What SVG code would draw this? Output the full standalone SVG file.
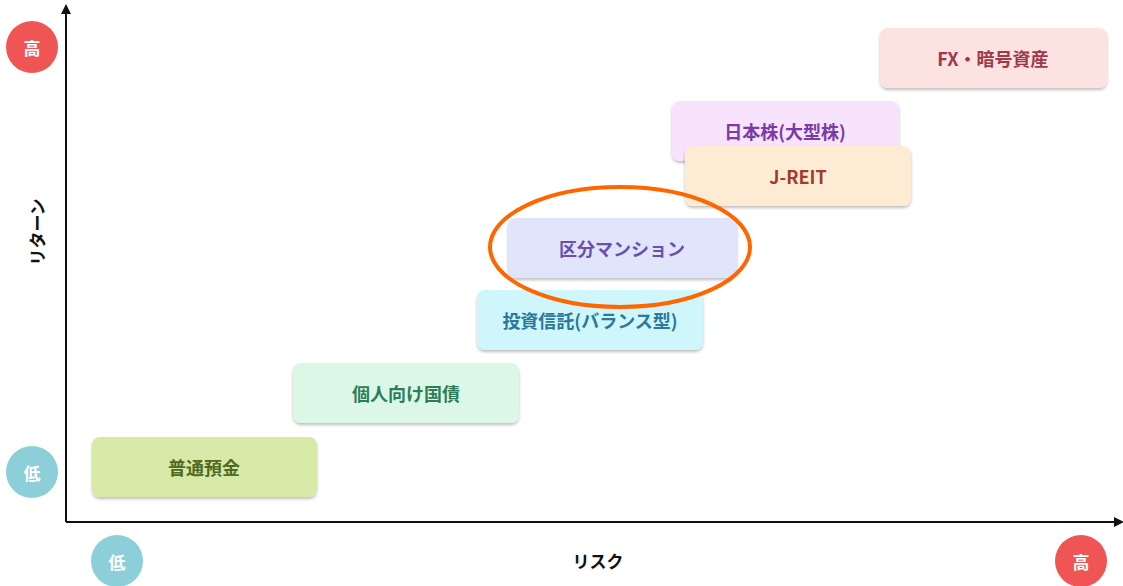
<svg xmlns="http://www.w3.org/2000/svg" width="1123" height="586" viewBox="0 0 1123 586">
<style>
text{font-family:"Noto Sans CJK JP","Noto Sans",sans-serif;font-weight:bold;text-anchor:middle;dominant-baseline:central}
.b text{font-size:18px}
.b rect{filter:url(#sh)}
.c text{fill:#fff;font-size:17px}
.ax{stroke:#111;stroke-width:2;fill:none}
</style>
<defs>
<filter id="sh" x="-10%" y="-20%" width="120%" height="150%"><feDropShadow dx="0" dy="2" stdDeviation="1.5" flood-opacity="0.25"/></filter>
<marker id="ar" markerWidth="10" markerHeight="10" refX="8" refY="5" orient="auto" markerUnits="userSpaceOnUse"><path d="M0,0 L10,5 L0,10z" fill="#111"/></marker>
</defs>
<g id="axes">
<line class="ax" x1="66" y1="522" x2="66" y2="6" marker-end="url(#ar)"/>
<line class="ax" x1="66" y1="522" x2="1122" y2="522" marker-end="url(#ar)"/>
<text x="598" y="560" font-size="17" fill="#111">リスク</text>
<text transform="translate(36,232) rotate(-90)" font-size="17" fill="#111">リターン</text>
</g>
<g class="c">
<g id="yhigh"><circle cx="32" cy="47" r="26" fill="#f05555"/><text x="32" y="47">高</text></g>
<g id="ylow"><circle cx="32" cy="472" r="26" fill="#8ccfd8"/><text x="32" y="472">低</text></g>
<g id="xlow"><circle cx="117" cy="561" r="26" fill="#8ccfd8"/><text x="117" y="561">低</text></g>
<g id="xhigh"><circle cx="1081" cy="561" r="26" fill="#f05555"/><text x="1081" y="561">高</text></g>
</g>
<g class="b">
<g id="n1"><rect x="92" y="437" width="225" height="60" rx="8" fill="#d6e9a6"/><text x="204" y="467" fill="#4f6b22">普通預金</text></g>
<g id="n2"><rect x="293" y="363" width="226" height="60" rx="8" fill="#dcf7e6"/><text x="406" y="393" fill="#2e7d5a">個人向け国債</text></g>
<g id="n3"><rect x="477" y="290" width="226" height="60" rx="8" fill="#cff7fb"/><text x="590" y="320" fill="#2a78a0">投資信託(バランス型)</text></g>
<g id="n4"><rect x="508" y="218" width="229" height="60" rx="8" fill="#e1e5fb"/><text x="622" y="248" fill="#6a4fb0">区分マンション</text></g>
<g id="n5"><rect x="672" y="101" width="227" height="60" rx="8" fill="#f7e3fb"/><text x="785" y="131" fill="#7a3aa8">日本株(大型株)</text></g>
<g id="n6"><rect x="685" y="146" width="226" height="60" rx="8" fill="#fdebd3"/><text x="798" y="176" fill="#a33a2a">J-REIT</text></g>
<g id="n7"><rect x="880" y="28" width="227" height="60" rx="8" fill="#fde2e2"/><text x="993" y="58" fill="#a0384a">FX・暗号資産</text></g>
</g>
<g id="highlight"><ellipse cx="620" cy="247" rx="130" ry="60" fill="none" stroke="#ff6600" stroke-width="4"/></g>
</svg>
